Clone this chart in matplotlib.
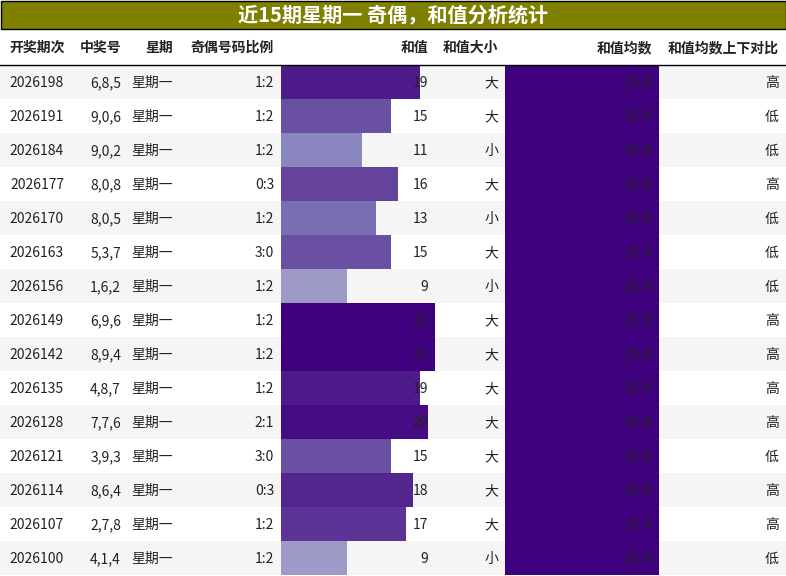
import matplotlib.pyplot as plt
from matplotlib.patches import Rectangle
from matplotlib import cm
from matplotlib.colors import Normalize

plt.rcParams['font.family'] = ['Noto Sans CJK SC', 'DejaVu Sans']

TITLE = "近15期星期一 奇偶，和值分析统计"
headers = ["开奖期次", "中奖号", "星期", "奇偶号码比例", "和值", "和值大小", "和值均数", "和值均数上下对比"]
periods = ["2026198", "2026191", "2026184", "2026177", "2026170", "2026163", "2026156", "2026149",
           "2026142", "2026135", "2026128", "2026121", "2026114", "2026107", "2026100"]
numbers = ["6,8,5", "9,0,6", "9,0,2", "8,0,8", "8,0,5", "5,3,7", "1,6,2", "6,9,6",
           "8,9,4", "4,8,7", "7,7,6", "3,9,3", "8,6,4", "2,7,8", "4,1,4"]
weekday = ["星期一"] * 15
ratios = ["1:2", "1:2", "1:2", "0:3", "1:2", "3:0", "1:2", "1:2", "1:2", "1:2", "2:1", "3:0", "0:3", "1:2", "1:2"]
sums = [19, 15, 11, 16, 13, 15, 9, 21, 21, 19, 20, 15, 18, 17, 9]
sizes = ["大", "大", "小", "大", "小", "大", "小", "大", "大", "大", "大", "大", "大", "大", "小"]
means = [15.9] * 15
compare = ["高", "低", "低", "高", "低", "低", "低", "高", "高", "高", "高", "低", "高", "高", "低"]

W, H = 786, 576
fig = plt.figure(figsize=(W / 100, H / 100), dpi=100)
ax = fig.add_axes([0, 0, 1, 1])
ax.set_xlim(0, W)
ax.set_ylim(H, 0)
ax.axis('off')

# title bar
ax.add_patch(Rectangle((0.5, 0.5), W - 1, 28, facecolor='#808000', edgecolor='black', lw=1))
ax.text(W / 2, 15, TITLE, color='white', fontsize=14.5, fontweight='bold', ha='center', va='center')

# columns: (left, right, align)
cols = [(0, 80, 'center'), (80, 128, 'right'), (128, 180, 'right'), (180, 281, 'right'),
        (281, 435, 'right'), (435, 505, 'right'), (505, 659, 'right'), (659, 786, 'right')]

def tx(i, y, s, **kw):
    l, r, a = cols[i]
    x = (l + r) / 2 - 3 if a == 'center' else r - 7
    ax.text(x, y, s, ha=a, va='center', fontsize=10, color='#222222', **kw)

hy = 48
for i, h in enumerate(headers):
    tx(i, hy, h, fontweight='bold')
ax.plot([0, W], [64.5, 64.5], color='black', lw=1)

top, rh = 65, 34
norm = Normalize(vmin=-3, vmax=21)
cmap = cm.get_cmap('Purples') if hasattr(cm, 'get_cmap') else plt.get_cmap('Purples')
bw = cols[4][1] - cols[4][0]
mw = cols[6][1] - cols[6][0]
for k in range(15):
    y0 = top + k * rh
    yc = y0 + rh / 2 + 1
    if k % 2 == 0:
        ax.add_patch(Rectangle((0, y0), W, rh, facecolor='#f5f5f5', lw=0))
    ax.add_patch(Rectangle((cols[4][0], y0), bw * sums[k] / max(sums), rh,
                           facecolor=cmap(norm(sums[k])), lw=0))
    ax.add_patch(Rectangle((cols[6][0], y0), mw * means[k] / max(means), rh,
                           facecolor=cmap(1.0), lw=0))
    vals = [periods[k], numbers[k], weekday[k], ratios[k], str(sums[k]), sizes[k],
            f"{means[k]:.1f}", compare[k]]
    for i, v in enumerate(vals):
        tx(i, yc, v)

fig.savefig('out.png', dpi=100)
